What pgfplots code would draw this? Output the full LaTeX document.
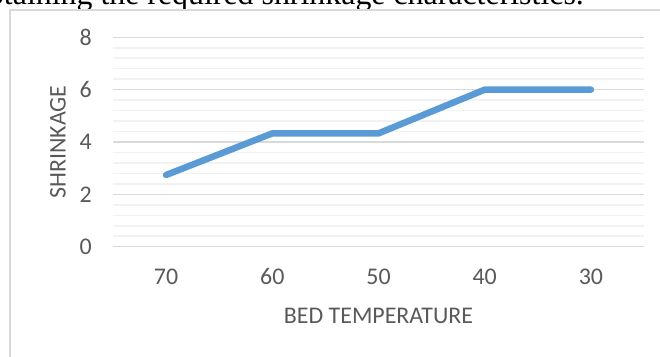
\documentclass[border=0pt]{standalone}
\usepackage{pgfplots}
\pgfplotsset{compat=1.18}
\usepackage{fontspec}
\setmainfont{Carlito}
\newfontfamily\seriffont{Liberation Serif}
\definecolor{linec}{HTML}{5B9BD5}
\definecolor{majg}{HTML}{D9D9D9}
\definecolor{ming}{HTML}{F2F2F2}
\definecolor{txt}{HTML}{595959}
\begin{document}
\begin{tikzpicture}[x=1bp,y=1bp]
\useasboundingbox (0,0) rectangle (660,356);
\node[anchor=base east, inner sep=0pt, font=\seriffont\fontsize{32}{37}\selectfont] at (584,351.5) {obtaining the required shrinkage characteristics.};
\draw[majg, line width=2bp] (10,-10) -- (10,346.3) -- (680,346.3);
\begin{axis}[
  at={(113bp,109.3bp)}, anchor=south west,
  width=531bp, height=209.4bp, scale only axis,
  xmin=-0.5, xmax=4.5, ymin=0, ymax=8,
  xtick={0,1,2,3,4}, xticklabels={70,60,50,40,30},
  ytick={0,2,4,6,8}, minor y tick num=4,
  ymajorgrids, yminorgrids,
  major grid style={majg, line width=1.5bp},
  minor grid style={ming, line width=1.5bp},
  axis line style={draw=none},
  major tick length=0pt, minor tick length=0pt,
  /pgf/number format/assume math mode=true,
  tick label style={font=\fontsize{24}{28}\selectfont, text=txt, inner sep=0pt},
  yticklabel style={anchor=east, xshift=-21bp},
  xticklabel style={anchor=center, yshift=-30bp},
  xlabel={BED TEMPERATURE}, ylabel={SHRINKAGE},
  label style={font=\fontsize{24}{28}\selectfont, text=txt, inner sep=0pt},
  xlabel style={at={(axis description cs:0.5,-0.331)}, anchor=center},
  ylabel style={at={(axis description cs:-0.1036,0.5)}, anchor=center},
  clip=false,
]
\addplot[linec, line width=6.5bp, line cap=round, line join=round] coordinates {(0,2.74) (1,4.33) (2,4.33) (3,6) (4,6)};
\end{axis}
\end{tikzpicture}
\end{document}
